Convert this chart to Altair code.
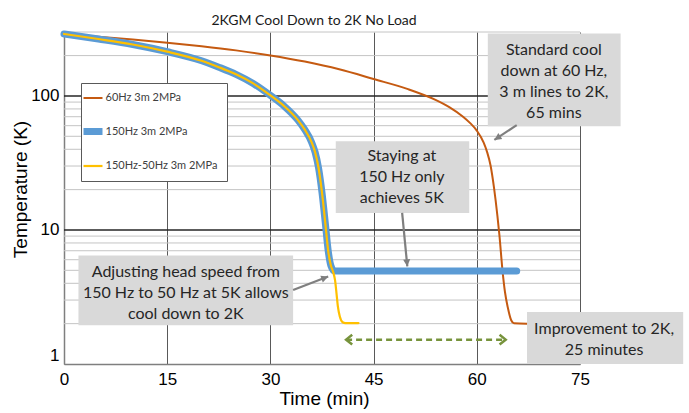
import altair as alt
import pandas as pd

# ---------------- data ----------------
series_names = ["60Hz 3m 2MPa", "150Hz 3m 2MPa", "150Hz-50Hz 3m 2MPa"]
series_colors = ["#C55A11", "#5B9BD5", "#FFC000"]
series_widths = [2, 7, 2.2]

time_60 = [0, 5, 10, 15, 20, 25, 30, 35, 40, 45, 50, 54, 56, 58, 59, 60, 61, 61.5, 62,
           62.5, 63, 63.3, 63.7, 64.1, 64.5, 65, 65.4, 67.3]
temp_60 = [290, 277, 263.5, 249.6, 234.9, 218.8, 200.6, 180.4, 158, 133.7, 112.4, 93.5, 82.6,
           70, 63, 55.1, 44.8, 38.1, 30.3, 20.7, 12.7, 9.0, 5.2, 3.43, 2.65, 2.12, 2.01, 2.0]

time_150 = [0, 5, 10, 15, 20, 22.5, 25, 27.5, 30, 32, 34, 35, 36, 36.5, 37, 37.5, 38, 38.4,
            38.8, 39.3, 45, 50, 55, 60, 65.8]
temp_150 = [290, 266, 242, 214, 183, 164, 145, 124, 101, 84, 66, 56, 45, 38, 29, 19, 11, 7,
            5.4, 4.95, 4.95, 4.95, 4.95, 4.95, 4.95]

time_150_50 = [0, 5, 10, 15, 20, 22.5, 25, 27.5, 30, 32, 34, 35, 36, 36.5, 37, 37.5, 38, 38.4,
               38.8, 39.1, 39.4, 39.6, 39.8, 40.1, 40.5, 40.9, 42.8]
temp_150_50 = [290, 266, 242, 214, 183, 164, 145, 124, 101, 84, 66, 56, 45, 38, 29, 19, 11, 7,
               5.4, 4.9, 4.2, 3.4, 2.7, 2.25, 2.05, 2.02, 2.02]

x_ticks = [0, 15, 30, 45, 60, 75]
y_ticks = [1, 10, 100]
y_major_grid = [10, 100]
y_minor_grid = [2, 3, 4, 5, 6, 7, 8, 9, 20, 30, 40, 50, 60, 70, 80, 90, 200, 300]

# annotation boxes (data units)
box_x1 = [61.6, 39.5, 2.1, 67.3]
box_x2 = [80.9, 58.9, 33.3, 90.0]
box_y1 = [292, 46, 6.45, 2.44]
box_y2 = [59.3, 13.4, 1.95, 1.0]
# position of the first text line of each box
box_text_x = [71.2, 49.1, 17.7, 78.5]
box_text_y = [222, 35.5, 4.89, 1.818]
box_texts = [
    "Standard cool\ndown at 60 Hz,\n3 m lines to 2K,\n65 mins",
    "Staying at\n150 Hz only\nachieves 5K",
    "Adjusting head speed from\n150 Hz to 50 Hz at 5K allows\ncool down to 2K",
    "Improvement to 2K,\n25 minutes",
]

# gray call-out arrows (tail -> head, data units)
arrow_x1 = [65.8, 49.15, 33.3]
arrow_y1 = [60.6, 13.4, 3.57]
arrow_x2 = [62.55, 49.9, 38.4]
arrow_y2 = [47.0, 5.35, 4.49]
arrow_angle = [236.7, 174.7, 69.2]

# green improvement arrow
green_x1, green_x2, green_y = 41.0, 64.2, 1.52

# ---------------- frames ----------------
rows = []
for name, ts, vs in [(series_names[0], time_60, temp_60),
                     (series_names[1], time_150, temp_150),
                     (series_names[2], time_150_50, temp_150_50)]:
    for i, (t, v) in enumerate(zip(ts, vs)):
        rows.append({"series": name, "x": t, "y": v, "idx": i})
lines_df = pd.DataFrame(rows)

boxes_df = pd.DataFrame({"x": box_x1, "x2": box_x2, "y": box_y1, "y2": box_y2})
texts_df = pd.DataFrame({"x": box_text_x, "y": box_text_y, "label": box_texts})
arrows_df = pd.DataFrame({"x": arrow_x1, "y": arrow_y1, "x2": arrow_x2, "y2": arrow_y2})
heads_df = pd.DataFrame({"x": arrow_x2, "y": arrow_y2, "angle": arrow_angle})
minor_df = pd.DataFrame({"y": y_minor_grid})
major_df = pd.DataFrame({"y": y_major_grid})
green_df = pd.DataFrame({"x": [green_x1], "x2": [green_x2], "y": [green_y]})
green_heads_df = pd.DataFrame({
    "x": [green_x1, green_x2], "y": [green_y, green_y],
    "shape": ["M1,-0.8L0,0L1,0.8", "M-1,-0.8L0,0L-1,0.8"],
})

# ---------------- scales / axes ----------------
xscale = alt.Scale(domain=[0, 75], nice=False, zero=False)
yscale = alt.Scale(type="log", domain=[1, 300], nice=False)
X_AX = alt.Axis(values=x_ticks, grid=True, gridColor="#595959", gridWidth=1, ticks=False,
                labelPadding=7, labelFlush=False, title="Time (min)", titleY=34,
                titleX=260, titleBaseline="middle")
Y_AX = alt.Axis(values=y_ticks, grid=False, ticks=False, labelPadding=5, format=".0f",
                labelFlush=True, title="Temperature (K)", titleX=-44, titleY=157,
                titleBaseline="middle", titleAngle=270)

def X(field="x"):
    return alt.X(f"{field}:Q", scale=xscale, axis=X_AX)

def Y(field="y"):
    return alt.Y(f"{field}:Q", scale=yscale, axis=Y_AX)

width_expr = ("datum.value === '%s' ? %s : (datum.value === '%s' ? %s : %s)"
              % (series_names[1], series_widths[1], series_names[2], series_widths[2],
                 series_widths[0]))
legend = alt.Legend(title=None, orient="none", legendX=17, legendY=51, fillColor="white",
                    strokeColor="#595959", padding=9.5, rowPadding=13.5, symbolType="stroke",
                    symbolSize=361, labelFont="Lato", labelFontSize=11, labelColor="#404040",
                    symbolOffset=-3, labelOffset=7, labelLimit=300,
                    symbolStrokeWidth=alt.ExprRef(width_expr))
color = alt.Color("series:N", scale=alt.Scale(domain=series_names, range=series_colors),
                  legend=legend)

minor = alt.Chart(minor_df).mark_rule(color="#C4C4C4", strokeWidth=1).encode(y=Y())
major = alt.Chart(major_df).mark_rule(color="#262626", strokeWidth=1.5).encode(y=Y())

line_layers = []
for name, w in zip(series_names, series_widths):
    line_layers.append(
        alt.Chart(lines_df[lines_df.series == name]).mark_line(
            interpolate="monotone", strokeCap="round", strokeJoin="round", strokeWidth=w
        ).encode(x=X(), y=Y(), color=color, order="idx:Q")
    )

boxes = alt.Chart(boxes_df).mark_rect(color="#D9D9D9").encode(
    x=X(), x2="x2:Q", y=Y(), y2="y2:Q")
texts = alt.Chart(texts_df).mark_text(
    font="Lato", fontSize=16, color="#262626", lineBreak="\n", lineHeight=21,
    align="center", baseline="middle"
).encode(x=X(), y=Y(), text="label:N")
arrows = alt.Chart(arrows_df).mark_rule(color="#7F7F7F", strokeWidth=2.2).encode(
    x=X(), x2="x2:Q", y=Y(), y2="y2:Q")
heads = alt.Chart(heads_df).mark_point(
    shape="M0,0L-0.5,1L0.5,1Z", filled=True, color="#7F7F7F", size=200, opacity=1
).encode(x=X(), y=Y(), angle=alt.Angle("angle:Q", scale=None))
green = alt.Chart(green_df).mark_rule(color="#77933C", strokeWidth=2.5,
                                      strokeDash=[6, 4]).encode(x=X(), x2="x2:Q", y=Y())
green_heads = alt.Chart(green_heads_df).mark_point(
    filled=False, color="#77933C", strokeWidth=2.5, size=150, opacity=1
).encode(x=X(), y=Y(), shape=alt.Shape("shape:N", scale=None))

chart = alt.layer(minor, major, *line_layers, boxes, texts, arrows, heads, green,
                  green_heads).properties(
    width=516, height=332,
    autosize=alt.AutoSizeParams(type="none"),
    padding={"left": 64, "top": 32, "right": 109, "bottom": 49},
    background="white",
    title=alt.TitleParams("2KGM Cool Down to 2K No Load", font="Lato", fontSize=14,
                          fontWeight="normal", color="#1a1a1a", anchor="middle", dx=-8,
                          offset=6, dy=18, baseline="bottom"),
).configure_view(stroke=None).configure_axis(
    labelFont="Liberation Sans", labelFontSize=17, labelColor="#000000",
    titleFont="Liberation Sans", titleFontSize=19, titleFontWeight="normal",
    titleColor="#000000", domainColor="#7F7F7F", domainWidth=1.5,
)

chart.save("out.html", embed_options={"renderer": "svg", "actions": False})
